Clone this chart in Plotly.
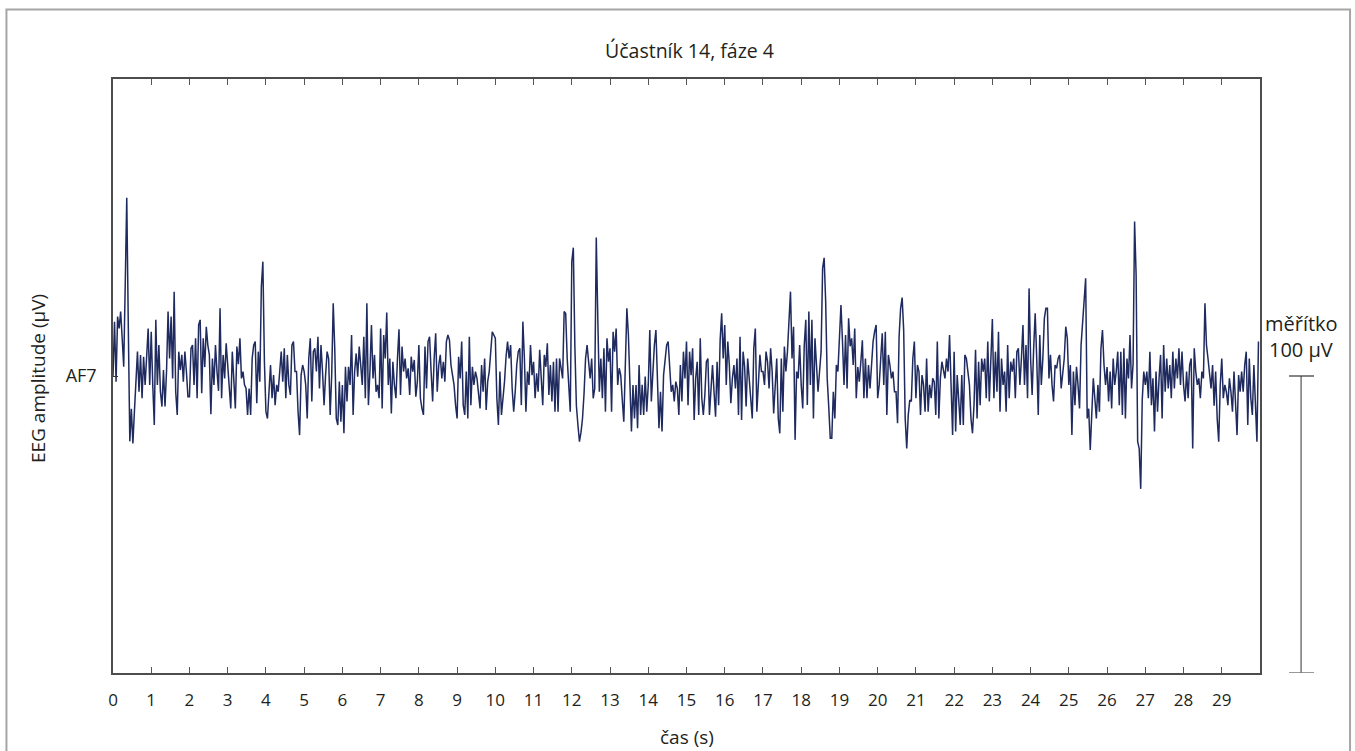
import numpy as np
import plotly.graph_objects as go

# EEG channel AF7, sampled at 25 Hz, amplitude in microvolts (one row per second)
fs = 25
channel = "AF7"
af7_uv = [
    0, 18.3, -1.9, 20, 16, 21.7, 12.7, 3.1, 30.6, 60, 17, -22, -11, -22.7, -12, -3, 8.2, -5.3, 7.1, -7.5, 6.5, -3, 5.9, 16, -3,
    14.9, -3, -16.5, 18.9, -3, 10.4, -5.3, -10.3, 2, -10.3, 1.5, 21.7, 5.9, 20, -0.8, 28.4, -5.3, -13.1, 8.2, 2, 7.1, -1.9, 8.2, 1.5, -7,
    -7, 9.3, 10.4, -3, 12.7, -7.5, 17.2, 18.9, -5.8, 12.7, 3, 16.6, 10.4, 7.1, -12.9, 5.9, -3, 10.4, 1.5, -5, 22.8, -7.5, 7.1, -0.8, 11,
    3.7, -1.9, -10.9, 8.2, -3, -10.9, 9.9, 4, 12.7, -0.8, 1.5, -3, -4.2, -13.1, -4.2, -13.1, 5.9, 10.4, 11.6, -9.2, 8.2, -1.9, 30, 38.5, 5,
    -12, -14.3, -3.6, 3.7, -7.5, 0.3, -9.8, -3, -5.3, 0.3, 8.2, -1.9, 9.3, -7.5, 7.1, -3, -6.4, 10.4, 11.6, 1.5, 1.5, -12, -19.9, 0.3, 3.7,
    1.5, -3, -14.3, 5.9, 12.7, -8.6, 8.2, 9.3, 1.5, 13.2, -4.2, 10.4, 1.5, -9.8, 0.3, 8.2, 5.9, -13.1, 0.3, 24.5, 9.3, -14.3, -16.5, -1.9, -15.4,
    -3, -19.3, 3.1, -8.6, 3.1, -3, 13.8, -13.1, 1.5, 7.6, -0.2, 9.9, 2.6, -3, 13.2, -7.5, 24.5, -9.8, 1.5, 17.2, -0.8, 7.1, -5.3, -3, -7.5,
    16, -10.9, 13.8, 5.9, 21.4, -3, 5.9, -12.6, 4.8, -3, -7.5, 5.9, 15.7, -6.4, 9.9, 1.5, 5.9, -0.8, 2.6, -6.4, 6.5, 1.5, 5.4, -7, -2,
    10.4, -7.5, -10.9, -13.1, 9.9, -4.2, 11.6, 13.2, 1.5, -8.6, 5.9, 14.4, -5.3, 3.7, 7.1, -0.8, 4.8, -1.9, 11.6, 13.8, 12.1, 3.7, 0.3, -3, -9.8,
    -14.3, 6.5, -0.8, 11.6, -9.8, -13.1, 1.5, -14.3, 13.2, -9.8, 3.1, -3, 1.5, -0.8, -5.3, -10.9, 3.7, -5.3, 5.9, -11.4, -1.9, 1.5, 8.2, 14.9, 13.8,
    12.7, -7.5, -16.5, 1.5, -13.1, -7.5, -1.9, 6.5, 11.6, 5.9, 10.4, -4.2, -12, -5.3, 3.7, 8.2, 9.3, -9.8, 18.3, 5.9, -12, 1.5, -3, 10.4, 0.3,
    4.8, -7.5, 0.9, -5.3, 8.8, -3, -9.8, 7.1, 3.1, 11, -6.4, 3.7, -8.6, 4.8, -12, 5.9, -12, 5.9, 1.5, -0.8, 21.7, 21, 5.9, -3, -12,
    38.5, 43.2, 10, -10, -16.5, -22.1, -19, -14.3, -6, 5.9, 10.4, 4.8, -0.8, 5.9, -7.5, -4.2, 46.6, 19.4, -5.3, 5.9, -7.5, 9.3, -12, 12.7, 4.8,
    9.3, -12, 14.9, 8.2, 16, -3, 2.6, 0.3, -8, -15.4, 3.7, 22.8, 13.8, -5.3, -18.7, -3, -14.3, -3, -17.6, 3.7, -13.1, -3, -13.1, -0.2, -12,
    -3, 15.5, -8.6, 3.7, 10.4, 15.5, -3, -17.6, -5.3, -18.7, 0.3, 5.9, 10.4, 11.6, 3.7, -5.3, -3, -8.6, -1.9, -4.2, -13.1, 3.7, -8.6, 8.2, -0.8,
    11.6, -9.8, 8.2, 0.3, 9.3, -14.8, -0.8, 4.8, -13.1, 12.7, -7.5, -13.1, -6.4, 4.8, 5.9, -13.1, -3, 3.7, -5.3, -13.7, 4.8, -9.8, 12.1, 21.1, 5.9,
    17.2, -3, 11.6, 3.7, -9.2, -0.8, 3.7, -4.2, 5.9, -13.1, 13.2, -14.8, 8.2, 3.2, -10.3, 5.9, -0.8, -9.8, -14.3, 9.3, 16, -12, -0.8, 7.1, 1.5,
    1.5, -3, 8.2, 4.8, -4.2, 9.3, 1.5, -12.6, -0.8, 5.9, -14.3, -19.3, 5.9, -12, 9.9, 1.5, 8.2, 17.2, 28.4, 5.9, 16.6, -21.5, 1.5, -0.8, 10.4,
    -3, -10.9, 10.4, 18.9, -9.8, 21.7, -3, 18.9, -14.3, 12.7, 3.7, -5.3, 1.5, 8.2, 36.3, 39.8, 25, -0.8, -10.3, -21, -21, -5.3, -14.3, 3.7, 1.5,
    12.7, 23.9, 11.6, -3, 13.8, -4.2, 19.4, 10, 12.7, 3.7, 16, -7.5, 3, -1.9, 4.8, 12, -7.5, 5.9, -7.5, 3.7, -4.2, 5.9, 11.6, 14.9, 17.2,
    -7.5, -3, 5.9, 14.4, -3, 14.9, -13.1, 7.1, 3.7, -0.8, 1.5, -5.3, -5.3, -15.9, 13.2, 22.8, 26.4, 15.5, -14.3, -24.4, -13.1, -8.1, -8.6, 5.9, 11.6,
    -7.5, 3.7, 1.5, -13.1, 0.3, -3, -12, 5.9, -12, -3, -7.5, -0.8, -2, -13.1, 11.6, -14.3, -0.8, 4.8, 1.5, -0.8, 5.9, 1.5, 13.8, -1.9, -19.9,
    8.2, -18.7, 0.3, -7.5, -16.5, 0.3, -16.5, 7.1, 5.9, 1.5, -3, -14.3, -19.3, -9.8, 8.8, -14.3, 4.8, -9.8, 5.9, 1.5, 5.9, -7.5, 11.6, -8.6, 8.2,
    19.2, -7.5, 8.2, -5.3, 14.9, -12, 5.9, -3, 1.5, -12, 10.4, -7.5, 4.8, 1.5, 5.9, -7.5, 8.2, 9.3, -3, 5.9, 17.2, -3, 10.4, -7.5, 29.5,
    5.9, -6.4, 9.3, 21.1, 5.9, -13.1, 13.8, -3, 5.9, 19.4, 22.8, 22.8, -0.8, 7.1, -3, -8.6, 3.7, 2.6, 5.9, 7.1, -4.2, 1.5, 5.9, 16.6, 12.7,
    -3, 3.7, -19.9, 1.5, -9.8, 3.1, -3, -10.9, 10.4, 17.2, 23.9, 32.9, -14.3, -11, -24.9, -9.8, -0.8, -7.5, -14.3, -3, -12, 9.3, 15.5, 3.7, -3,
    3, -8.6, 1.5, -10.9, 5.9, -3, 1.5, 8.2, -9.8, 8.2, -13.1, 9.3, -14.3, 5.9, -0.8, 13.8, -4.2, 4, 52, 34, -22, -24.4, -38, -8, 1.5,
    -3, 1.5, -7.5, 8.2, -9.8, -0.8, -18.7, 1.5, -12, -0.8, 7.1, -14.3, 10.4, -5.3, 5.9, -4.2, 3.7, -7.5, 8.2, -4.2, 5.9, -0.8, 9.3, -3, 8.2,
    -3, -8.6, 1.5, -7.5, 3.7, 5.9, -24.4, 9.3, 1.5, -3, -0.8, -7.5, 1.5, -0.8, 24.5, 10.4, 5.9, 1.5, -4.2, 3.7, -10, 1.5, -14.3, -22.1, -3,
    5.9, -7.5, -3, -5.3, -9.8, -0.8, -5.3, -12, 1.5, -9.8, -19.9, 0.3, -5.3, 1.5, -5.3, 3.7, 8.2, -16.5, 5.9, -7.5, -13.1, 3.7, -7.5, -22.1, 11.6,
]

x_ticks = list(range(30))
x_range = [0, 30]
y_range = [-100, 100]
scale_bar_uv = 100

title_text = "Účastník 14, fáze 4"
x_title = "čas (s)"
y_title = "EEG amplitude (µV)"
scale_label = "měřítko"
scale_value = f"{scale_bar_uv} µV"

t = np.arange(len(af7_uv)) / fs

FONT = "Open Sans"
TEXT = "#231f20"

fig = go.Figure()
fig.add_trace(go.Scatter(
    x=t, y=af7_uv, mode="lines",
    line=dict(color="#1f2a5e", width=1.5),
    hoverinfo="skip", showlegend=False,
))

fig.update_layout(
    width=1355, height=751,
    margin=dict(l=113, r=95, t=79, b=78, pad=0),
    paper_bgcolor="white", plot_bgcolor="white",
    font=dict(family=FONT, size=18, color=TEXT),
    showlegend=False,
    xaxis=dict(
        range=x_range, tickvals=x_ticks, ticks="inside", ticklen=6,
        tickcolor="#555555", tickwidth=1,
        showline=True, linecolor="#4d4d4d", linewidth=1.5, mirror="ticks",
        showgrid=False, zeroline=False, fixedrange=True,
        tickfont=dict(family=FONT, size=17, color=TEXT),
        ticklabelstandoff=11,
    ),
    yaxis=dict(
        range=y_range, tickvals=[0], ticktext=[channel], ticks="inside", ticklen=5,
        tickcolor="#333333", tickwidth=1,
        showline=True, linecolor="#4d4d4d", linewidth=1.5, mirror=True,
        showgrid=False, zeroline=False, fixedrange=True,
        tickfont=dict(family=FONT, size=18, color=TEXT),
        ticklabelstandoff=11,
    ),
)

# outer frame around the whole figure
fig.add_shape(type="rect", xref="paper", yref="paper",
              x0=-0.0929, x1=1.0785, y0=-0.146, y1=1.117,
              line=dict(color="#a6a6a6", width=2), fillcolor="rgba(0,0,0,0)", layer="below")

# amplitude scale bar on the right
bar_x, cap_l, cap_r = 1.0358, 1.0253, 1.0471
fig.add_shape(type="line", xref="paper", yref="y", x0=bar_x, x1=bar_x, y0=0, y1=-scale_bar_uv,
              line=dict(color="#333333", width=1))
fig.add_shape(type="line", xref="paper", yref="y", x0=cap_l, x1=cap_r, y0=0, y1=0,
              line=dict(color="#333333", width=1.2))
fig.add_shape(type="line", xref="paper", yref="y", x0=cap_l, x1=cap_r, y0=-scale_bar_uv, y1=-scale_bar_uv,
              line=dict(color="#777777", width=1.5))

def label(text, x, y, size, angle=0):
    fig.add_annotation(text=text, x=x, y=y, xref="paper", yref="paper", showarrow=False,
                       xanchor="center", yanchor="middle", textangle=angle,
                       font=dict(family=FONT, size=size, color=TEXT))

label(title_text, 0.5026, 1.0488, 19.5)
label(x_title, 0.5, -0.1077, 19)
label(scale_label, bar_x, 0.5892, 20)
label(scale_value, bar_x, 0.5438, 20)
label(y_title, -0.0654, 0.4966, 19, angle=-90)

fig.write_html("out.html")
